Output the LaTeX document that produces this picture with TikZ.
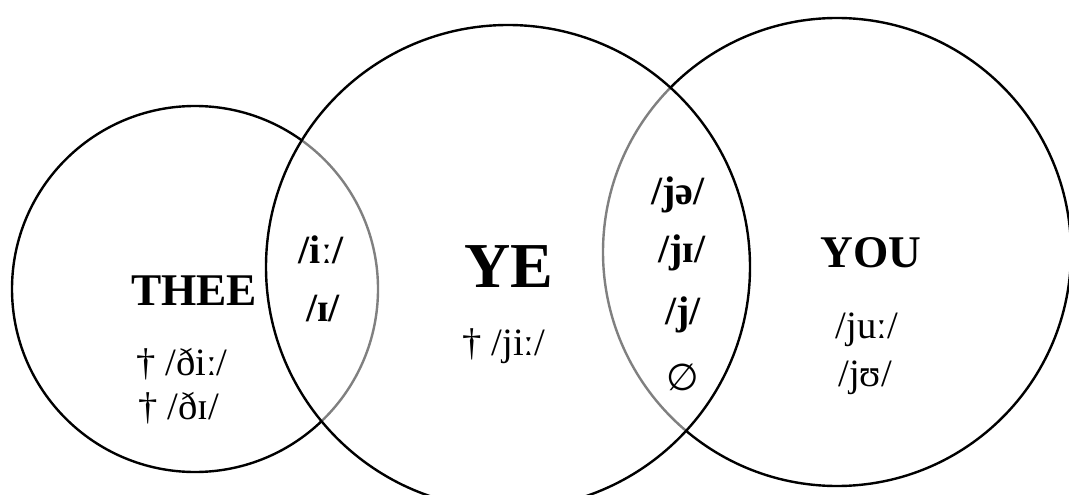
\documentclass[tikz,border=0pt]{standalone}
\usepackage{fontspec}
\setmainfont{Liberation Serif}
\newfontfamily\symfont{DejaVu Sans}
\begin{document}
\begin{tikzpicture}[x=0.75pt,y=-0.75pt,
  circ/.style={draw=black,line width=1.8pt},
  inner/.style={draw=black!50,line width=1.8pt},
  erase/.style={draw=white,line width=3.5pt},
  big/.style={font=\fontsize{48}{56}\selectfont\bfseries},
  head/.style={font=\fontsize{34}{40}\selectfont\bfseries},
  mid/.style={font=\fontsize{30}{36}\selectfont\bfseries},
  small/.style={font=\fontsize{29}{34}\selectfont},
  inner sep=0pt]
\useasboundingbox (0,0) rectangle (1069,495);
\fill[white] (0,0) rectangle (1069,495);
\coordinate (cthee) at (195,289);
\coordinate (cye) at (508,267);
\coordinate (cyou) at (837,252);
\draw[circ] (cthee) circle[radius=137.25pt];
\draw[circ] (cyou) circle[radius=175.5pt];
\begin{scope}
  \clip (cye) circle[radius=181.5pt];
  \draw[erase] (cthee) circle[radius=137.25pt];
  \draw[erase] (cyou) circle[radius=175.5pt];
  \draw[inner] (cthee) circle[radius=137.25pt];
  \draw[inner] (cyou) circle[radius=175.5pt];
\end{scope}
\draw[circ] (cye) circle[radius=181.5pt];
% THEE
\node[head] (thee) at (194,291) {THEE};
\node[small] (thee1) at (182,364) {† /ðiː/};
\node[small] (thee2) at (179,408) {† /ðɪ/};
% overlap THEE-YE
\node[mid] (o1) at (321,250) {/iː/};
\node[mid] (o2) at (323,309) {/ɪ/};
% YE
\node[big] (ye) at (509,267) {YE};
\node[small] (ye1) at (504,346) {† /jiː/};
% overlap YE-YOU
\node[mid] (p1) at (678,195) {/jə/};
\node[mid] (p2) at (682,253) {/jɪ/};
\node[mid] (p3) at (683,315) {/j/};
\node[font=\fontsize{28}{34}\selectfont\symfont] (p4) at (683,377) {∅};
% YOU
\node[head] (you) at (871,253) {YOU};
\node[small] (you1) at (867,330) {/juː/};
\node[small] (you2) at (865,378) {/jʊ/};
\end{tikzpicture}
\end{document}
